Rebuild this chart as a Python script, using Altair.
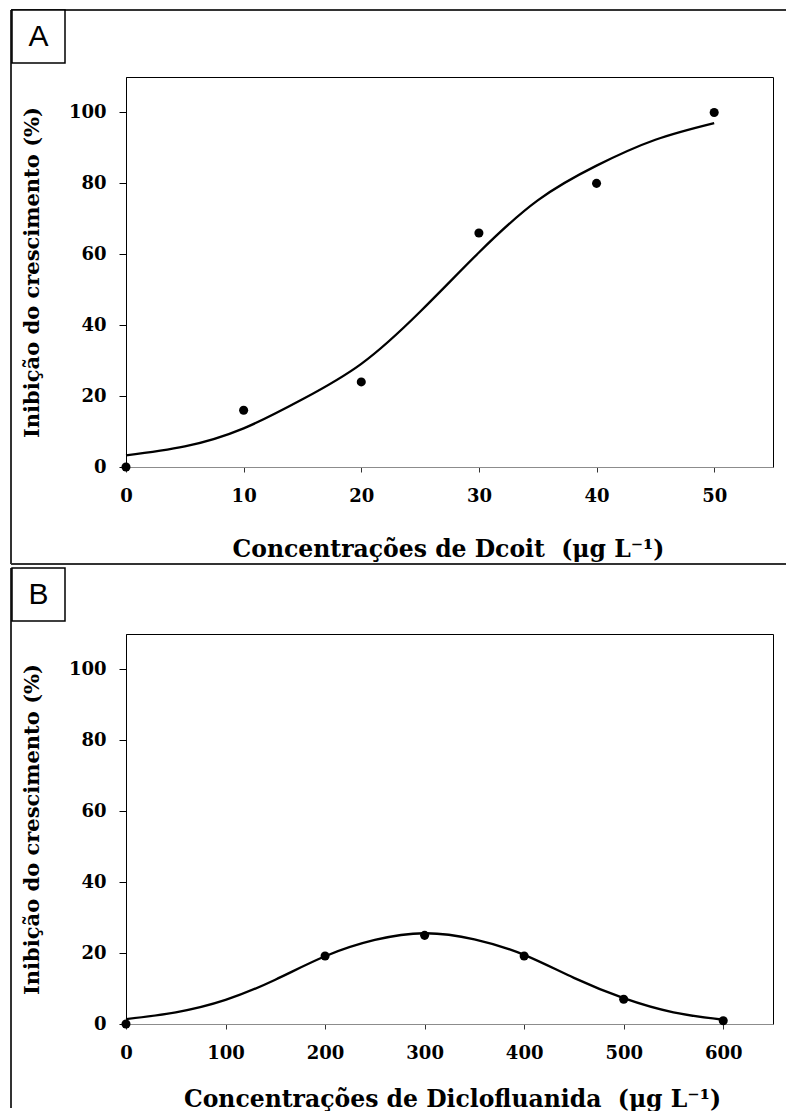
import altair as alt
import pandas as pd

# ---------------- data ----------------
# Panel A: Dcoit
dcoit_conc = [0, 10, 20, 30, 40, 50]
dcoit_inhib = [0, 16, 24, 66, 80, 100]
dcoit_curve_x = [0, 5, 10, 15, 20, 25, 30, 35, 40, 45, 50]
dcoit_curve_y = [3.3, 5.8, 10.9, 19.1, 29.1, 43.8, 60.5, 75.2, 85.0, 92.3, 97.0]

# Panel B: Diclofluanida
diclo_conc = [0, 200, 300, 400, 500, 600]
diclo_inhib = [0, 19.2, 25.0, 19.2, 7.0, 0.9]
diclo_curve_x = [0, 50, 100, 150, 200, 250, 300, 350, 400, 450, 500, 550, 600]
diclo_curve_y = [1.4, 3.3, 6.8, 12.5, 19.1, 23.7, 25.6, 23.9, 19.5, 13.0, 7.3, 3.3, 1.2]

y_ticks = [0, 20, 40, 60, 80, 100]
x_ticks_a = [0, 10, 20, 30, 40, 50]
x_ticks_b = [0, 100, 200, 300, 400, 500, 600]

y_title = "Inibição do crescimento (%)"
x_title_a = "Concentrações de Dcoit\u00a0 (μg L⁻¹)"
x_title_b = "Concentrações de Diclofluanida\u00a0 (μg L⁻¹)"

W, H = 647, 390
one = pd.DataFrame({"k": [0]})
SERIF = "DejaVu Serif"


def y_axis():
    return alt.Axis(values=y_ticks, title=y_title, titleX=-94, titleY=H / 2,
                    titleAngle=270, titleAlign="center", titleBaseline="middle",
                    titleFont=SERIF, titleFontWeight="bold", titleFontSize=21, titleColor="black",
                    labelFont=SERIF, labelFontWeight="bold", labelFontSize=18, labelColor="black",
                    tickSize=7, labelPadding=13, grid=False,
                    domainColor="black", tickColor="black", labelFlush=False)


def x_axis(values, title, title_y, title_x):
    return alt.Axis(values=values, title=title, titleX=title_x, titleY=title_y,
                    titleAlign="center", titleBaseline="middle",
                    titleFont=SERIF, titleFontWeight="bold", titleFontSize=23.5, titleColor="black",
                    labelFont=SERIF, labelFontWeight="bold", labelFontSize=18, labelColor="black",
                    tickSize=5, labelPadding=15, grid=False, labelFlush=False,
                    domainColor="#8c8c8c", tickColor="#333333")


def panel(pts, curve, xdom, xvals, xtitle, title_y, title_x, letter, top, bottom, sep):
    xs = alt.Scale(domain=xdom, nice=False, zero=False)
    ys = alt.Scale(domain=[0, 110], nice=False)
    layers = []
    # frame lines
    layers.append(alt.Chart(one).mark_rule(color="#333333", strokeWidth=2).encode(
        x=alt.value(-115), y=alt.value(top), y2=alt.value(bottom)))
    if sep is not None:
        layers.append(alt.Chart(one).mark_rule(color="#333333", strokeWidth=2).encode(
            x=alt.value(-115), x2=alt.value(660), y=alt.value(sep)))
    if letter == "A":
        layers.append(alt.Chart(one).mark_rule(color="#333333", strokeWidth=2).encode(
            x=alt.value(-115), x2=alt.value(660), y=alt.value(top)))
    # letter box
    layers.append(alt.Chart(one).mark_rect(fill="white", stroke="black", strokeWidth=1.5).encode(
        x=alt.value(-114), x2=alt.value(-61), y=alt.value(top), y2=alt.value(top + 53)))
    layers.append(alt.Chart(one).mark_text(font="Liberation Sans", fontSize=30,
                                           align="center", baseline="middle", color="black").encode(
        x=alt.value(-87.5), y=alt.value(top + 27), text=alt.value(letter)))
    line = alt.Chart(curve).mark_line(color="black", strokeWidth=2.3, interpolate="natural").encode(
        x=alt.X("x:Q", scale=xs, axis=x_axis(xvals, xtitle, title_y, title_x)),
        y=alt.Y("y:Q", scale=ys, axis=y_axis()))
    points = alt.Chart(pts).mark_circle(color="black", size=82, opacity=1).encode(
        x=alt.X("x:Q", scale=xs), y=alt.Y("y:Q", scale=ys))
    layers += [line, points]
    return alt.layer(*layers).properties(width=W, height=H)


pts_a = pd.DataFrame({"x": dcoit_conc, "y": dcoit_inhib})
cur_a = pd.DataFrame({"x": dcoit_curve_x, "y": dcoit_curve_y})
pts_b = pd.DataFrame({"x": diclo_conc, "y": diclo_inhib})
cur_b = pd.DataFrame({"x": diclo_curve_x, "y": diclo_curve_y})

pa = panel(pts_a, cur_a, [0, 55], x_ticks_a, x_title_a, 82, 322, "A", -67, 487, 487)
pb = panel(pts_b, cur_b, [0, 650], x_ticks_b, x_title_b, 75, 326, "B", -66, 474, None)

chart = alt.vconcat(pa, pb, spacing=0).properties(
    padding={"left": 1, "top": 0, "right": 0, "bottom": 0},
    background="white"
).configure_view(stroke="black", strokeWidth=1)

chart.save("out.html", embed_options={"renderer": "svg", "actions": False})
